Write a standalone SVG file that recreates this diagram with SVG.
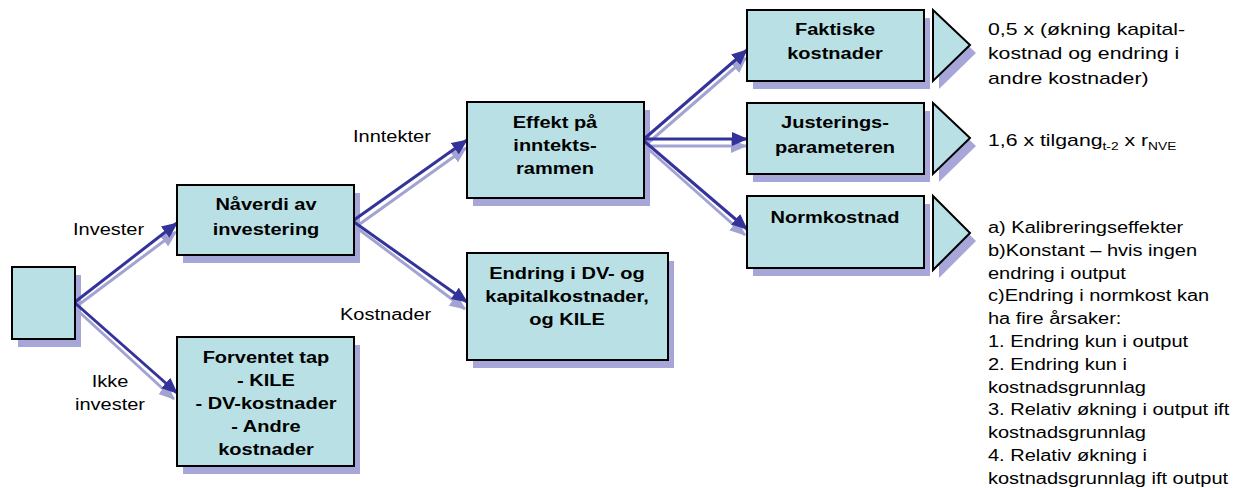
<svg xmlns="http://www.w3.org/2000/svg" width="1233" height="488" viewBox="0 0 1233 488">
<style>
.box{fill:#b9e0e4;stroke:#000;stroke-width:2}
.sh{fill:#a6a6d8}
.t{font-family:"Liberation Sans",Arial,sans-serif;font-size:16px;fill:#000}
.b{font-weight:bold}
.big{font-size:17px}
.dk{stroke:#333399;stroke-width:3;fill:none}
.lt{stroke:#a3a3d3;stroke-width:3;fill:none}
</style>
<defs>
<marker id="ad" markerUnits="userSpaceOnUse" viewBox="0 0 16 14" refX="15" refY="7" markerWidth="16" markerHeight="14" orient="auto"><path d="M0,0 L16,7 L0,14 Z" fill="#333399"/></marker>
<marker id="al" markerUnits="userSpaceOnUse" viewBox="0 0 16 14" refX="15" refY="7" markerWidth="16" markerHeight="14" orient="auto"><path d="M0,0 L16,7 L0,14 Z" fill="#a3a3d3"/></marker>
</defs>
<rect width="1233" height="488" fill="#fff"/>
<g id="shadows">
<rect class="sh" x="18" y="275" width="63" height="72"/>
<rect class="sh" x="183" y="193" width="177" height="70"/>
<rect class="sh" x="183" y="345" width="177" height="129"/>
<rect class="sh" x="473" y="110" width="177" height="96"/>
<rect class="sh" x="473" y="261" width="201" height="107"/>
<rect class="sh" x="753" y="18" width="177" height="71"/>
<rect class="sh" x="753" y="111" width="177" height="71"/>
<rect class="sh" x="753" y="204" width="177" height="72"/>
<polygon class="sh" points="939,18 976,53 939,89"/>
<polygon class="sh" points="939,111 976,146 939,182"/>
<polygon class="sh" points="939,204 976,241 939,278"/>
</g>
<g id="connectors">
<line class="lt" x1="77" y1="306" x2="176" y2="232" marker-end="url(#al)"/>
<line class="lt" x1="76" y1="309" x2="174" y2="399" marker-end="url(#al)"/>
<line class="lt" x1="357" y1="226" x2="466" y2="148" marker-end="url(#al)"/>
<line class="lt" x1="357" y1="228" x2="465" y2="309" marker-end="url(#al)"/>
<line class="lt" x1="648" y1="143" x2="746" y2="58" marker-end="url(#al)"/>
<line class="lt" x1="646" y1="146" x2="746" y2="146" marker-end="url(#al)"/>
<line class="lt" x1="646" y1="147" x2="745" y2="235" marker-end="url(#al)"/>
<line class="dk" x1="75" y1="302" x2="177" y2="223" marker-end="url(#ad)"/>
<line class="dk" x1="75" y1="303" x2="177" y2="393" marker-end="url(#ad)"/>
<line class="dk" x1="354" y1="220" x2="467" y2="140" marker-end="url(#ad)"/>
<line class="dk" x1="354" y1="222" x2="467" y2="302" marker-end="url(#ad)"/>
<line class="dk" x1="644" y1="139" x2="747" y2="50" marker-end="url(#ad)"/>
<line class="dk" x1="644" y1="139" x2="747" y2="139" marker-end="url(#ad)"/>
<line class="dk" x1="644" y1="141" x2="747" y2="229" marker-end="url(#ad)"/>
</g>
<g id="start"><rect class="box" x="12" y="267" width="63" height="72"/></g>
<g id="naaverdi"><rect class="box" x="177" y="185" width="177" height="70"/>
<text class="t b" text-anchor="middle" transform="translate(266 210) scale(1.25 1)"><tspan x="0">Nåverdi av</tspan><tspan x="0" dy="25">investering</tspan></text></g>
<g id="forventet"><rect class="box" x="177" y="337" width="177" height="129"/>
<text class="t b" text-anchor="middle" transform="translate(266 363) scale(1.25 1)"><tspan x="0">Forventet tap</tspan><tspan x="0" dy="23">- KILE</tspan><tspan x="0" dy="23">- DV-kostnader</tspan><tspan x="0" dy="23">- Andre</tspan><tspan x="0" dy="23">kostnader</tspan></text></g>
<g id="effekt"><rect class="box" x="467" y="102" width="177" height="96"/>
<text class="t b" text-anchor="middle" transform="translate(555 128) scale(1.25 1)"><tspan x="0">Effekt på</tspan><tspan x="0" dy="23">inntekts-</tspan><tspan x="0" dy="23">rammen</tspan></text></g>
<g id="endring"><rect class="box" x="467" y="253" width="201" height="107"/>
<text class="t b" text-anchor="middle" transform="translate(567 279) scale(1.25 1)"><tspan x="0">Endring i DV- og</tspan><tspan x="0" dy="23.5">kapitalkostnader,</tspan><tspan x="0" dy="23">og KILE</tspan></text></g>
<g id="faktiske"><rect class="box" x="747" y="10" width="177" height="71"/>
<text class="t b" text-anchor="middle" transform="translate(835 35) scale(1.25 1)"><tspan x="0">Faktiske</tspan><tspan x="0" dy="24">kostnader</tspan></text></g>
<g id="justering"><rect class="box" x="747" y="103" width="177" height="71"/>
<text class="t b" text-anchor="middle" transform="translate(835 128) scale(1.25 1)"><tspan x="0">Justerings-</tspan><tspan x="0" dy="25">parameteren</tspan></text></g>
<g id="normkostnad"><rect class="box" x="747" y="196" width="177" height="72"/>
<text class="t b" text-anchor="middle" transform="translate(835 223) scale(1.25 1)">Normkostnad</text></g>
<g id="tri1"><polygon class="box" points="933,10 970,45 933,81"/></g>
<g id="tri2"><polygon class="box" points="933,103 970,138 933,174"/></g>
<g id="tri3"><polygon class="box" points="933,196 970,233 933,270"/></g>
<g id="labels">
<text class="t" transform="translate(73 235) scale(1.25 1)">Invester</text>
<text class="t" text-anchor="middle" transform="translate(110 387) scale(1.25 1)"><tspan x="0">Ikke</tspan><tspan x="0" dy="23">invester</tspan></text>
<text class="t" transform="translate(353 142) scale(1.25 1)">Inntekter</text>
<text class="t" transform="translate(340 320) scale(1.25 1)">Kostnader</text>
</g>
<g id="notes">
<text class="t big" transform="translate(988 35) scale(1.25 1)"><tspan x="0">0,5 x (økning kapital-</tspan><tspan x="0" dy="24.5">kostnad og endring i</tspan><tspan x="0" dy="24.5">andre kostnader)</tspan></text>
<text class="t big" transform="translate(988 146) scale(1.25 1)">1,6 x tilgang<tspan font-size="11" dy="4">t-2</tspan><tspan dy="-4"> x r</tspan><tspan font-size="11" dy="4">NVE</tspan></text>
<text class="t" transform="translate(988 233) scale(1.25 1)"><tspan x="0">a) Kalibreringseffekter</tspan><tspan x="0" dy="22.8">b)Konstant – hvis ingen</tspan><tspan x="0" dy="22.8">endring i output</tspan><tspan x="0" dy="22.8">c)Endring i normkost kan</tspan><tspan x="0" dy="22.8">ha fire årsaker:</tspan><tspan x="0" dy="22.8">1. Endring kun i output</tspan><tspan x="0" dy="22.8">2. Endring kun i</tspan><tspan x="0" dy="22.8">kostnadsgrunnlag</tspan><tspan x="0" dy="22.8">3. Relativ økning i output ift</tspan><tspan x="0" dy="22.8">kostnadsgrunnlag</tspan><tspan x="0" dy="22.8">4. Relativ økning i</tspan><tspan x="0" dy="22.8">kostnadsgrunnlag ift output</tspan></text>
</g>
</svg>
